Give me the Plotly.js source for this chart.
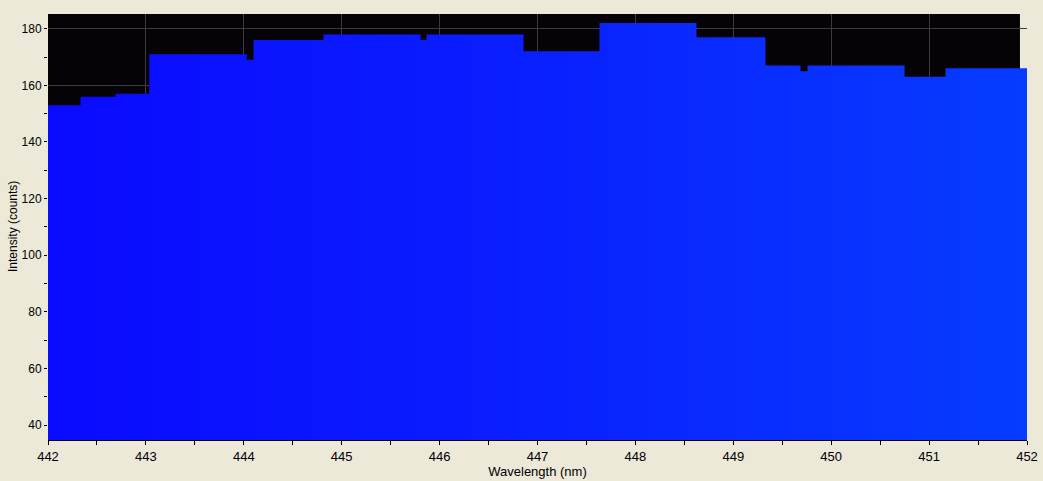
<!DOCTYPE html>
<html>
<head>
<meta charset="utf-8">
<script src="https://cdn.plot.ly/plotly-3.0.1.min.js"></script>
<style>
html,body{margin:0;padding:0;background:#ECE9D8;}
#chart{width:1043px;height:481px;}
</style>
</head>
<body>
<div id="chart"></div>
<script>
// Step start wavelengths (nm) and intensity of each step (counts)
const wavelengths = [442, 442.332, 442.689, 443.034, 444.028, 444.099, 444.814, 445.805, 445.866, 446.857, 447.633, 448.624, 449.329, 449.686, 449.758, 450.749, 451.168, 452];
const intensity   = [153, 156, 157, 171, 169, 176, 178, 176, 178, 172, 182, 177, 167, 165, 167, 163, 166, 166];
const xTicks = [442, 443, 444, 445, 446, 447, 448, 449, 450, 451, 452];
const yTicks = [40, 60, 80, 100, 120, 140, 160, 180];

const trace = {
  x: wavelengths,
  y: intensity,
  type: 'scatter',
  mode: 'lines',
  line: {shape: 'hv', width: 0, color: '#0a10ff'},
  fill: 'tozeroy',
  fillgradient: {
    type: 'horizontal',
    colorscale: [[0, '#0a0aff'], [0.5, '#0a20ff'], [1, '#063cff']]
  },
  hoverinfo: 'x+y'
};

const font = {family: 'Liberation Sans, Arial, sans-serif', size: 13, color: '#000'};
const yFont = {family: 'Liberation Sans, Arial, sans-serif', size: 12, color: '#000'};

const layout = {
  width: 1043,
  height: 481,
  margin: {l: 48, r: 16, t: 14, b: 41, pad: 0},
  paper_bgcolor: '#ECE9D8',
  plot_bgcolor: '#ECE9D8',
  showlegend: false,
  font: font,
  shapes: [{
    type: 'rect', xref: 'paper', yref: 'paper',
    x0: 0, x1: 0.9928, y0: 0, y1: 1,
    fillcolor: '#050307', line: {width: 0}, layer: 'below'
  }],
  annotations: [{
    text: 'Intensity (counts)', xref: 'paper', yref: 'paper',
    x: 0, y: 0.5, xanchor: 'center', yanchor: 'middle',
    xshift: -35, textangle: -90, showarrow: false,
    font: yFont
  }],
  xaxis: {
    range: [442, 452],
    tickvals: xTicks,
    ticktext: xTicks.map(String),
    ticks: 'outside', ticklen: 4, tickcolor: '#000', tickwidth: 1,
    minor: {dtick: 0.5, tick0: 442, ticks: 'outside', ticklen: 4, tickcolor: '#000', showgrid: false},
    showgrid: true, gridcolor: '#3c3c3c', gridwidth: 1,
    showline: true, linecolor: '#000', linewidth: 1,
    zeroline: false,
    tickfont: font,
    title: {text: 'Wavelength (nm)', font: font, standoff: 4},
    automargin: false
  },
  yaxis: {
    range: [34.7, 185.2],
    tickvals: yTicks,
    ticktext: yTicks.map(String),
    ticks: 'outside', ticklen: 3, tickcolor: '#000', tickwidth: 1,
    minor: {dtick: 10, tick0: 0, ticks: 'outside', ticklen: 3, tickcolor: '#000', showgrid: false},
    showgrid: true, gridcolor: '#3c3c3c', gridwidth: 1,
    showline: false,
    zeroline: false,
    tickfont: yFont,
    automargin: false
  }
};

Plotly.newPlot('chart', [trace], layout, {displayModeBar: false, staticPlot: true});
</script>
</body>
</html>
